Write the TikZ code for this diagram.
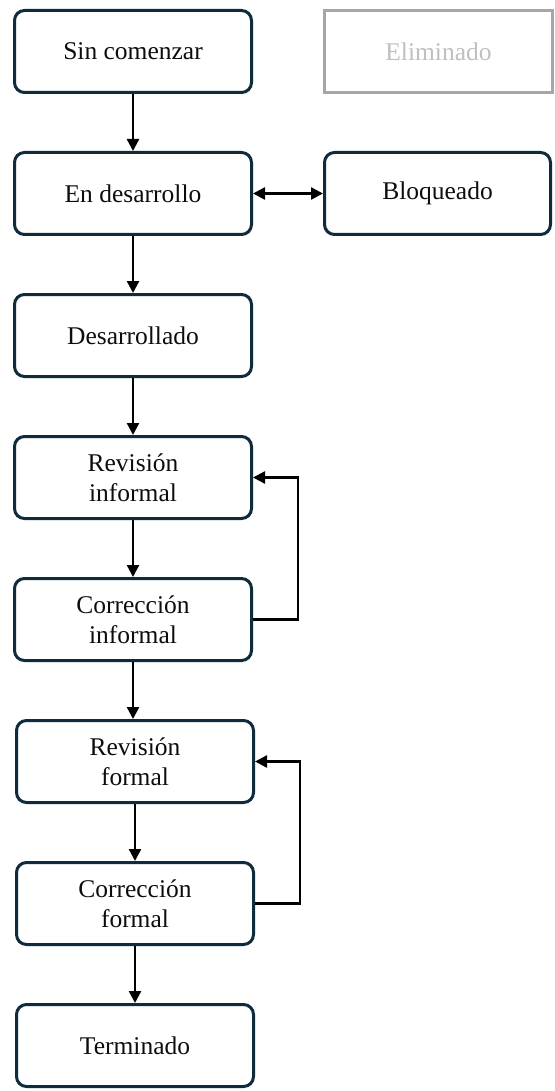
\documentclass[tikz,border=0pt]{standalone}
\usepackage{fontspec}
\setmainfont{Liberation Serif}
\usepackage{xcolor}
\usepackage{tikz}
\usetikzlibrary{arrows.meta, positioning}

\definecolor{boxline}{HTML}{0F2B3C}
\definecolor{goneline}{HTML}{A6A6A6}
\definecolor{gonetext}{HTML}{BFBFBF}

\begin{document}
\begin{tikzpicture}[
  x=1pt, y=1pt,
  state/.style={rectangle, draw=boxline, line width=3pt, rounded corners=10pt,
                minimum width=237pt, minimum height=82pt, align=center,
                font=\fontsize{25.5}{30}\selectfont, text=black!95},
  gone/.style={rectangle, draw=goneline, line width=3pt,
               minimum width=228pt, minimum height=82pt, align=center,
               font=\fontsize{25.5}{30}\selectfont, text=gonetext},
  arr/.style={-{Triangle[length=12pt, width=12pt]}, line width=2.4pt},
  dblarr/.style={{Triangle[length=12pt, width=12pt]}-{Triangle[length=12pt, width=12pt]}, line width=2.4pt},
  node distance=57pt and 70pt
]
  \useasboundingbox (0,0) rectangle (554,-1091);

  \node[state] (sc) at (133,-51.5) {Sin comenzar};
  \node[gone, right=of sc] (el) {Eliminado};
  \node[state, below=of sc] (ed) {En desarrollo};
  \node[state, right=of ed, minimum width=226pt] (bl) {Bloqueado};
  \node[state, below=of ed] (dv) {Desarrollado};
  \node[state, below=of dv] (ri) {Revisión\\informal};
  \node[state, below=of ri] (ci) {Corrección\\informal};
  \node[state, below=of ci, xshift=2pt] (rf) {Revisión\\formal};
  \node[state, below=of rf] (cf) {Corrección\\formal};
  \node[state, below=of cf] (tm) {Terminado};

  \draw[arr] (sc) -- (ed);
  \draw[dblarr] (ed) -- (bl);
  \draw[arr] (ed) -- (dv);
  \draw[arr] (dv) -- (ri);
  \draw[arr] (ri) -- (ci);
  \draw[arr] (ci.south) -- (ci.south |- rf.north);
  \draw[arr] (rf) -- (cf);
  \draw[arr] (cf) -- (tm);

  % vueltas de corrección
  \draw[arr] (ci.east) -- ++(45,0) |- (ri.east);
  \draw[arr] (cf.east) -- ++(45,0) |- (rf.east);
\end{tikzpicture}
\end{document}
